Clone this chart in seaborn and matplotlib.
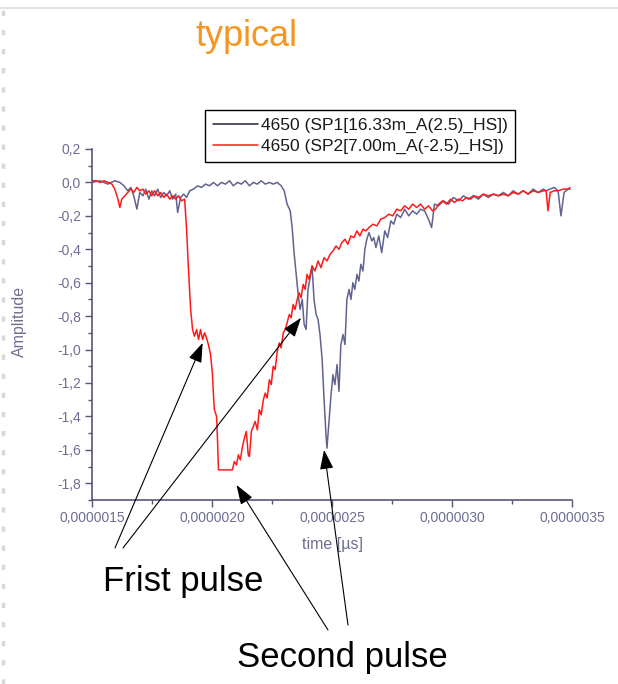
import numpy as np
import pandas as pd
import matplotlib
matplotlib.use("Agg")
import matplotlib.pyplot as plt
from matplotlib.ticker import MultipleLocator, FuncFormatter
from matplotlib.lines import Line2D
import seaborn as sns

# ---------------- data (time in microseconds, amplitude) ----------------
sp1_time = [1.500, 1.533, 1.566, 1.595, 1.616, 1.633, 1.649, 1.662, 1.674, 1.687, 1.699, 1.712, 1.724,
            1.737, 1.749, 1.761, 1.774, 1.786, 1.799, 1.811, 1.824, 1.836, 1.849, 1.857, 1.869, 1.882,
            1.894, 1.907, 1.923, 1.940, 1.956, 1.973, 1.990, 2.006, 2.023, 2.039, 2.056, 2.073, 2.089,
            2.106, 2.122, 2.139, 2.156, 2.172, 2.189, 2.205, 2.222, 2.239, 2.255, 2.272, 2.288, 2.301,
            2.313, 2.326, 2.334, 2.342, 2.351, 2.359, 2.367, 2.376, 2.384, 2.392, 2.400, 2.409, 2.417,
            2.425, 2.434, 2.442, 2.450, 2.459, 2.467, 2.475, 2.479, 2.488, 2.496, 2.504, 2.512, 2.521,
            2.529, 2.537, 2.546, 2.554, 2.562, 2.571, 2.579, 2.587, 2.595, 2.604, 2.612, 2.620, 2.629,
            2.637, 2.645, 2.654, 2.666, 2.674, 2.683, 2.695, 2.707, 2.720, 2.732, 2.745, 2.757, 2.770,
            2.786, 2.803, 2.820, 2.836, 2.853, 2.869, 2.886, 2.902, 2.915, 2.927, 2.944, 2.965, 2.985,
            3.006, 3.027, 3.048, 3.068, 3.089, 3.110, 3.131, 3.151, 3.172, 3.193, 3.214, 3.234, 3.255,
            3.276, 3.297, 3.317, 3.338, 3.359, 3.380, 3.392, 3.409, 3.425, 3.442, 3.454, 3.467, 3.483,
            3.492]
sp1_amp = [0.00, 0.01, -0.01, 0.01, 0.00, -0.02, -0.05, -0.03, -0.08, -0.16, -0.06, -0.08, -0.04,
           -0.10, -0.05, -0.08, -0.04, -0.09, -0.06, -0.08, -0.05, -0.10, -0.07, -0.18, -0.09, -0.07,
           -0.09, -0.05, -0.04, -0.02, -0.03, -0.01, -0.02, 0.00, -0.02, 0.00, -0.01, 0.01, -0.02,
           0.00, -0.01, 0.01, -0.02, 0.00, -0.01, 0.01, -0.01, 0.00, -0.01, 0.00, -0.02, -0.05,
           -0.13, -0.17, -0.27, -0.42, -0.55, -0.67, -0.76, -0.70, -0.85, -0.88, -0.64, -0.57, -0.50,
           -0.70, -0.79, -0.82, -0.91, -1.06, -1.30, -1.51, -1.59, -1.42, -1.27, -1.15, -1.21, -1.09,
           -1.25, -0.97, -0.91, -0.97, -0.70, -0.64, -0.70, -0.60, -0.64, -0.55, -0.59, -0.49, -0.53,
           -0.40, -0.34, -0.30, -0.35, -0.33, -0.39, -0.32, -0.42, -0.29, -0.33, -0.23, -0.25, -0.19,
           -0.21, -0.16, -0.20, -0.17, -0.19, -0.16, -0.17, -0.22, -0.27, -0.13, -0.14, -0.11, -0.13,
           -0.09, -0.11, -0.08, -0.10, -0.08, -0.10, -0.07, -0.09, -0.07, -0.08, -0.06, -0.08, -0.05,
           -0.07, -0.05, -0.07, -0.04, -0.06, -0.04, -0.05, -0.04, -0.03, -0.05, -0.20, -0.06, -0.04,
           -0.03]

sp2_time = [1.500, 1.517, 1.533, 1.550, 1.566, 1.583, 1.595, 1.608, 1.616, 1.624, 1.637, 1.649, 1.662,
            1.674, 1.687, 1.699, 1.712, 1.724, 1.737, 1.749, 1.761, 1.774, 1.786, 1.799, 1.811, 1.824,
            1.836, 1.849, 1.861, 1.873, 1.886, 1.894, 1.902, 1.911, 1.919, 1.927, 1.936, 1.944, 1.952,
            1.961, 1.969, 1.977, 1.985, 1.994, 2.002, 2.006, 2.010, 2.019, 2.023, 2.027, 2.039, 2.056,
            2.073, 2.085, 2.093, 2.102, 2.110, 2.118, 2.127, 2.135, 2.143, 2.151, 2.156, 2.164, 2.172,
            2.180, 2.189, 2.197, 2.205, 2.214, 2.222, 2.230, 2.239, 2.247, 2.255, 2.263, 2.272, 2.280,
            2.288, 2.297, 2.305, 2.313, 2.322, 2.330, 2.338, 2.346, 2.355, 2.363, 2.371, 2.380, 2.388,
            2.396, 2.405, 2.417, 2.429, 2.442, 2.454, 2.467, 2.479, 2.492, 2.504, 2.517, 2.529, 2.541,
            2.554, 2.566, 2.579, 2.591, 2.604, 2.616, 2.629, 2.641, 2.654, 2.670, 2.687, 2.703, 2.720,
            2.737, 2.753, 2.770, 2.786, 2.803, 2.820, 2.836, 2.853, 2.869, 2.886, 2.902, 2.919, 2.932,
            2.944, 2.961, 2.977, 2.994, 3.010, 3.027, 3.044, 3.060, 3.077, 3.093, 3.110, 3.131, 3.151,
            3.172, 3.193, 3.214, 3.234, 3.255, 3.276, 3.297, 3.317, 3.338, 3.359, 3.380, 3.392, 3.400,
            3.409, 3.425, 3.442, 3.463, 3.483, 3.492]
sp2_amp = [0.01, 0.01, 0.00, 0.01, 0.00, -0.01, -0.04, -0.10, -0.15, -0.10, -0.08, -0.06, -0.04,
           -0.06, -0.03, -0.05, -0.04, -0.07, -0.05, -0.08, -0.05, -0.08, -0.06, -0.09, -0.07, -0.10,
           -0.08, -0.10, -0.08, -0.11, -0.10, -0.28, -0.52, -0.76, -0.88, -0.92, -0.88, -0.94, -0.88,
           -0.94, -0.90, -0.93, -0.97, -1.03, -1.15, -1.27, -1.36, -1.40, -1.54, -1.72, -1.72, -1.72,
           -1.72, -1.72, -1.67, -1.69, -1.63, -1.66, -1.58, -1.53, -1.49, -1.63, -1.64, -1.49, -1.46,
           -1.43, -1.48, -1.36, -1.39, -1.30, -1.26, -1.29, -1.18, -1.21, -1.10, -1.12, -1.01, -0.96,
           -0.99, -0.90, -0.88, -0.84, -0.79, -0.81, -0.73, -0.76, -0.70, -0.66, -0.69, -0.61, -0.64,
           -0.55, -0.58, -0.50, -0.53, -0.47, -0.51, -0.45, -0.47, -0.43, -0.41, -0.38, -0.40, -0.36,
           -0.34, -0.37, -0.32, -0.33, -0.29, -0.32, -0.28, -0.29, -0.27, -0.25, -0.26, -0.22, -0.21,
           -0.19, -0.20, -0.16, -0.17, -0.14, -0.16, -0.13, -0.15, -0.13, -0.16, -0.14, -0.17, -0.16,
           -0.13, -0.11, -0.13, -0.10, -0.12, -0.10, -0.11, -0.09, -0.10, -0.08, -0.09, -0.07, -0.08,
           -0.07, -0.08, -0.07, -0.08, -0.06, -0.07, -0.05, -0.07, -0.05, -0.06, -0.05, -0.05, -0.17,
           -0.06, -0.05, -0.05, -0.04, -0.04, -0.04]

series_labels = ["4650 (SP1[16.33m_A(2.5)_HS])", "4650 (SP2[7.00m_A(-2.5)_HS])"]
title_text = "typical"
x_label = "time [µs]"
y_label = "Amplitude"
annot_first = "Frist pulse"
annot_second = "Second pulse"

# ---------------- style ----------------
sns.set_style("ticks")
plt.rcParams['font.family'] = ['Liberation Sans', 'DejaVu Sans']

W, H = 618, 684
fig = plt.figure(figsize=(W / 100, H / 100), dpi=100)
fig.patch.set_facecolor("white")

ax = fig.add_axes([92 / W, 1 - 500 / H, 480 / W, 351 / H])
ax.set_facecolor("white")

blue = "#61638f"
red = "#ff1a1a"
axis_col = "#55557a"
tick_col = "#6e6e92"

sns.lineplot(x=sp1_time, y=sp1_amp, ax=ax, color=blue, lw=1.1, estimator=None, sort=False,
             label=series_labels[0])
sns.lineplot(x=sp2_time, y=sp2_amp, ax=ax, color=red, lw=1.1, estimator=None, sort=False,
             label=series_labels[1])

ax.set_xlim(1.5, 3.5)
ax.set_ylim(-1.9, 0.2)
ax.xaxis.set_major_locator(MultipleLocator(0.5))
ax.xaxis.set_minor_locator(MultipleLocator(0.25))
ax.yaxis.set_major_locator(MultipleLocator(0.2))
ax.yaxis.set_minor_locator(MultipleLocator(0.1))
ax.xaxis.set_major_formatter(FuncFormatter(lambda v, p: f"{v * 1e-6:.7f}".replace('.', ',')))
ax.yaxis.set_major_formatter(FuncFormatter(lambda v, p: f"{v:.1f}".replace('.', ',').replace('-0,0', '0,0')))

for s in ["top", "right"]:
    ax.spines[s].set_visible(False)
for s in ["left", "bottom"]:
    ax.spines[s].set_color(axis_col)
    ax.spines[s].set_linewidth(1.2)

ax.tick_params(which="major", direction="out", length=5, width=1.0, color=axis_col,
               labelsize=10, labelcolor=tick_col, pad=3)
ax.tick_params(which="minor", direction="out", length=3, width=1.0, color=axis_col)

ax.set_xlabel(x_label, fontsize=11.5, color=tick_col)
ax.set_ylabel(y_label, fontsize=11.5, color=tick_col)
ax.xaxis.set_label_coords(0.5, -0.105)
ax.yaxis.set_label_coords(-0.135, 0.51)

# legend
leg = ax.legend(loc="upper left", bbox_to_anchor=(205 / W, 1 - 110 / H), bbox_transform=fig.transFigure,
                frameon=True, fancybox=False, framealpha=1, edgecolor="black", fontsize=12.5,
                handlelength=2.6, handletextpad=0.15, borderpad=0.45, labelspacing=0.35,
                borderaxespad=0)
leg.get_frame().set_linewidth(1.0)
leg.get_lines()[0].set_color("#20203a")
for t in leg.get_texts():
    t.set_color("#1a1a1a")

# title
fig.text(195 / W, 1 - 36 / H, title_text, color="#f5961e", fontsize=26, ha="left", va="center")

# annotation arrows
arrow_kw = dict(arrowstyle="-|>,head_length=1.0,head_width=0.35", color="black", lw=0.8,
                mutation_scale=12, shrinkA=0, shrinkB=0)
ax.annotate("", xy=(1.961, -0.96), xytext=(115 / W, 1 - 548 / H), textcoords="figure fraction",
            arrowprops=arrow_kw, annotation_clip=False)
ax.annotate("", xy=(2.371, -0.81), xytext=(123 / W, 1 - 548 / H), textcoords="figure fraction",
            arrowprops=arrow_kw, annotation_clip=False)
ax.annotate("", xy=(2.102, -1.81), xytext=(328 / W, 1 - 630 / H), textcoords="figure fraction",
            arrowprops=arrow_kw, annotation_clip=False)
ax.annotate("", xy=(2.467, -1.60), xytext=(348 / W, 1 - 625 / H), textcoords="figure fraction",
            arrowprops=arrow_kw, annotation_clip=False)

fig.text(103 / W, 1 - 582 / H, annot_first, fontsize=25, color="black", ha="left", va="center")
fig.text(237 / W, 1 - 657 / H, annot_second, fontsize=25, color="black", ha="left", va="center")

# slide frame decorations
fig.add_artist(Line2D([0, 1], [1 - 8 / H, 1 - 8 / H], color="#e4e4e4", lw=1.5))
fig.add_artist(Line2D([3 / W, 3 / W], [0, 1 - 10 / H], color="#d8d8d8", lw=2.5, ls=(0, (1.5, 4))))

fig.savefig("out.png", dpi=100, facecolor="white")
